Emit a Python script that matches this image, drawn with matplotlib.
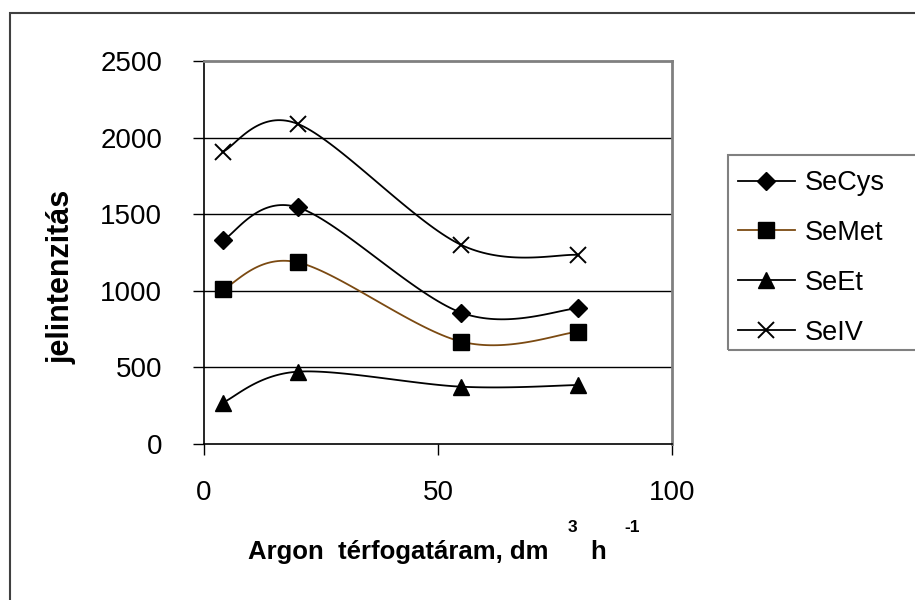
import numpy as np
import matplotlib
matplotlib.use("Agg")
import matplotlib.pyplot as plt
from matplotlib.lines import Line2D
from matplotlib.patches import Rectangle

plt.rcParams['font.family'] = ['Liberation Sans', 'DejaVu Sans']

# Argon flow rate (dm3/h) and signal intensities per selenium species
flow = [4, 20, 55, 80]
secys = [1330, 1545, 857, 886]
semet = [1010, 1186, 668, 733]
seet = [270, 472, 374, 385]
seiv = [1908, 2090, 1299, 1234]
series_names = ["SeCys", "SeMet", "SeEt", "SeIV"]
x_ticks = [0, 50, 100]
y_ticks = [0, 500, 1000, 1500, 2000, 2500]


def smooth(xs, ys, n=40):
    """Spreadsheet-style smoothed line: cubic Bezier through each point pair."""
    p = np.column_stack([xs, ys]).astype(float)
    ext = np.vstack([p[0], p, p[-1]])
    t = np.linspace(0, 1, n)[1:, None]
    out = [p[:1]]
    for i in range(len(p) - 1):
        p0, p1, p2, p3 = ext[i], ext[i + 1], ext[i + 2], ext[i + 3]
        c1 = p1 + (p2 - p0) / 6.0
        c2 = p2 - (p3 - p1) / 6.0
        seg = ((1 - t) ** 3) * p1 + 3 * ((1 - t) ** 2) * t * c1 \
            + 3 * (1 - t) * t ** 2 * c2 + t ** 3 * p2
        out.append(seg)
    return np.vstack(out)


W, H = 915, 600
fig = plt.figure(figsize=(W / 100, H / 100), dpi=100)
ax = fig.add_axes([204 / W, 1 - 444 / H, (672 - 204) / W, (444 - 61) / H])

styles = [
    dict(color='black', marker='D', ms=9, mec='black', mfc='black'),
    dict(color='#7B4A12', marker='s', ms=11, mec='black', mfc='black'),
    dict(color='black', marker='^', ms=11.5, mec='black', mfc='black'),
    dict(color='black', marker='x', ms=11, mec='black', mew=1.4),
]
data = [secys, semet, seet, seiv]

handles = []
for name, ys, st in zip(series_names, data, styles):
    curve = smooth(flow, ys)
    ax.plot(curve[:, 0], curve[:, 1], color=st['color'], lw=1.3, zorder=3)
    ax.plot(flow, ys, linestyle='none', marker=st['marker'], ms=st['ms'],
            mec=st['mec'], mfc=st.get('mfc', 'none'), mew=st.get('mew', 1.0),
            zorder=4)
    handles.append(Line2D([], [], color=st['color'], lw=1.3, marker=st['marker'],
                          ms=st['ms'], mec=st['mec'], mfc=st.get('mfc', 'none'),
                          mew=st.get('mew', 1.0)))

ax.set_xlim(0, 100)
ax.set_ylim(0, 2500)
ax.set_xticks(x_ticks)
ax.set_yticks(y_ticks)
ax.set_xticklabels([str(v) for v in x_ticks])
ax.set_yticklabels([str(v) for v in y_ticks])
ax.tick_params(axis='both', direction='out', length=8, width=1, colors='black',
               labelsize=20)
ax.tick_params(axis='y', pad=22)
ax.tick_params(axis='x', pad=18)

for y in y_ticks[1:-1]:
    ax.axhline(y, color='black', lw=1.0, zorder=1)

for side in ('left', 'bottom'):
    ax.spines[side].set_color('black')
    ax.spines[side].set_linewidth(1.2)
for side in ('top', 'right'):
    ax.spines[side].set_color('#808080')
    ax.spines[side].set_linewidth(2)

# Axis titles
fig.text(61 / W, 1 - 277 / H, 'jelintenzitás', rotation=90, ha='center',
         va='center', fontsize=22, fontweight='bold')
fig.text(248 / W, 1 - 559 / H, 'Argon  térfogatáram, dm', ha='left',
         va='baseline', fontsize=18.5, fontweight='bold')
fig.text(572 / W, 1 - 528 / H, '3', ha='center', va='center', fontsize=12.5,
         fontweight='bold')
fig.text(590 / W, 1 - 559 / H, 'h', ha='left', va='baseline', fontsize=18.5,
         fontweight='bold')
fig.text(632 / W, 1 - 528 / H, '-1', ha='center', va='center', fontsize=12.5,
         fontweight='bold')

# Legend with its own frame
fig.patches.append(Rectangle((728 / W, 1 - 350 / H), (925 - 728) / W,
                             (350 - 155) / H, transform=fig.transFigure,
                             fill=False, edgecolor='#808080', lw=1.5))
fig.legend(handles, series_names, loc='upper left',
           bbox_to_anchor=(738 / W, 1 - 170 / H), frameon=False, fontsize=19.5,
           handlelength=2.1, handletextpad=0.35, labelspacing=0.88,
           borderaxespad=0, borderpad=0)

# Outer chart border
fig.patches.append(Rectangle((10 / W, -0.02), 1.0, 1 - 13 / H + 0.02,
                             transform=fig.transFigure, fill=False,
                             edgecolor='#404040', lw=1.5))

fig.savefig('out.png', dpi=100)
